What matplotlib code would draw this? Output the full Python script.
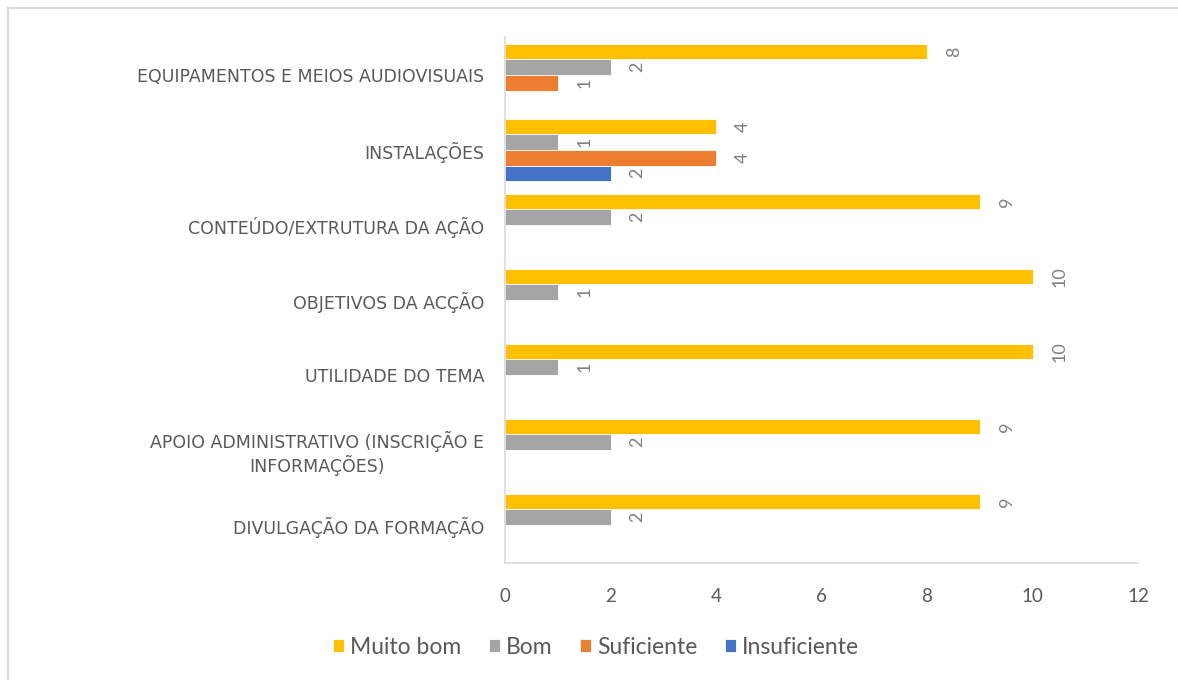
import matplotlib
matplotlib.use("Agg")
import matplotlib.pyplot as plt
from matplotlib.lines import Line2D
import numpy as np

categories = [
    "DIVULGAÇÃO DA FORMAÇÃO",
    "APOIO ADMINISTRATIVO (INSCRIÇÃO E\nINFORMAÇÕES)",
    "UTILIDADE DO TEMA",
    "OBJETIVOS DA ACÇÃO",
    "CONTEÚDO/EXTRUTURA DA AÇÃO",
    "INSTALAÇÕES",
    "EQUIPAMENTOS E MEIOS AUDIOVISUAIS",
]
series_names = ["Muito bom", "Bom", "Suficiente", "Insuficiente"]
muito_bom = [9, 9, 10, 10, 9, 4, 8]
bom = [2, 2, 1, 1, 2, 1, 2]
suficiente = [None, None, None, None, None, 4, 1]
insuficiente = [None, None, None, None, None, 2, None]
colors = ["#FFC000", "#A5A5A5", "#ED7D31", "#4472C4"]
xticks = [0, 2, 4, 6, 8, 10, 12]

W, H = 1178, 680
fig = plt.figure(figsize=(W / 100, H / 100), dpi=100)
ax = fig.add_axes([505 / W, 1 - 562.5 / H, (1138 - 505) / W, (562.5 - 37.5) / H])

font = "Lato"
txt_color = "#595959"
h = 0.207
offsets = [1.5 * h, 0.5 * h, -0.5 * h, -1.5 * h]
y = np.arange(len(categories))
all_series = [muito_bom, bom, suficiente, insuficiente]
for vals, name, col, off in zip(all_series, series_names, colors, offsets):
    ys = [yy + off for yy, v in zip(y, vals) if v is not None]
    vs = [v for v in vals if v is not None]
    ax.barh(ys, vs, height=h, color=col, edgecolor="white", linewidth=0.6, label=name)
    for yy, v in zip(ys, vs):
        ax.annotate(str(v), (v, yy), xytext=(19.5, 0), textcoords="offset points",
                    rotation=90, ha="center", va="center", fontsize=13,
                    color="#7F7F7F", family=font)

ax.set_xlim(0, 12)
ax.set_ylim(-0.5, len(categories) - 0.5)
ax.set_xticks(xticks)
ax.set_xticklabels([str(t) for t in xticks], fontsize=13.5, color=txt_color, family=font)
ax.set_yticks(y)
ax.set_yticklabels(categories, fontsize=12.5, color=txt_color,
                   multialignment="center", linespacing=1.2)
for t in ax.get_yticklabels():
    t.set_fontfamily("DejaVu Sans")
ax.tick_params(axis="both", length=0)
ax.tick_params(axis="x", pad=18)
ax.tick_params(axis="y", pad=15)
for s in ["top", "right"]:
    ax.spines[s].set_visible(False)
for s in ["left", "bottom"]:
    ax.spines[s].set_color("#D9D9D9")
    ax.spines[s].set_linewidth(1.2)

leg = fig.legend(loc="center", bbox_to_anchor=(596 / W, 1 - 647 / H), ncol=4, frameon=False,
                 handlelength=0.5, handleheight=0.5, handletextpad=0.25,
                 columnspacing=1.2, prop={"family": font, "size": 16.5})
for t in leg.get_texts():
    t.set_color(txt_color)

# chart border (top and left visible)
fig.add_artist(Line2D([8 / W, 1.0], [1 - 8 / H, 1 - 8 / H], color="#D9D9D9", lw=1.5,
                      transform=fig.transFigure))
fig.add_artist(Line2D([8 / W, 8 / W], [0, 1 - 8 / H], color="#D9D9D9", lw=1.5,
                      transform=fig.transFigure))

fig.savefig("out.png", dpi=100)
